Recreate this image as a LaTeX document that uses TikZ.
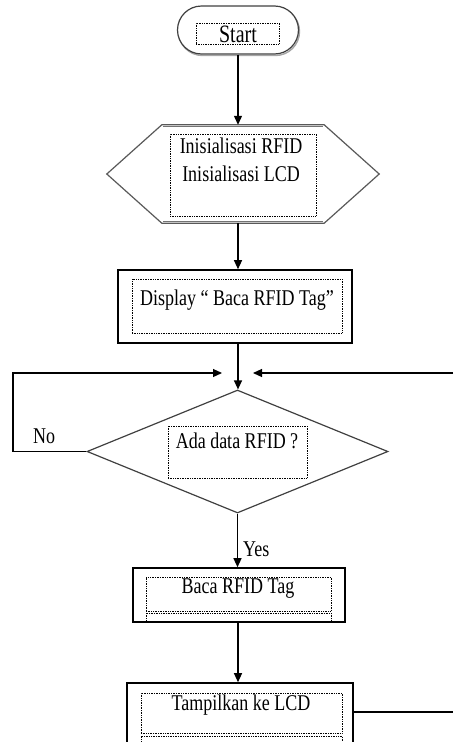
\documentclass[tikz,border=0pt]{standalone}
\usepackage{fontspec}
\setmainfont{Liberation Serif}
\usetikzlibrary{arrows.meta,shapes.misc,shapes.geometric}
% slightly tall lettering
\newcommand\tall[1]{\scalebox{1}[1.25]{#1}}
\tikzset{
  box/.style={draw, line width=1.6pt, inner sep=0, fill=white},
  dotbox/.style={draw, densely dotted, line width=0.7pt, inner sep=0},
  lbl/.style={font=\fontsize{18}{22}\selectfont, inner sep=0, anchor=base},
  flow/.style={line width=1.2pt, -{Triangle[length=9pt,width=8pt]}},
  wire/.style={line width=1.2pt},
}
\begin{document}
\begin{tikzpicture}[x=1pt,y=-1pt]
\useasboundingbox (0,0) rectangle (453,742);
\clip (0,0) rectangle (453,742);

% Start terminal with a soft shadow
\node[rounded rectangle, draw=gray!70, line width=1.4pt, minimum width=121pt, minimum height=48pt, inner sep=0] at (239,31.5) {};
\node[rounded rectangle, draw=black!75, fill=white, line width=1.2pt, minimum width=121pt, minimum height=48pt, inner sep=0] (start) at (238,30) {};
\node[dotbox, minimum width=83pt, minimum height=21pt] (startin) at (237.5,33.5) {};
\node[lbl, font=\fontsize{20}{24}\selectfont] (startt) at (238,42) {\tall{Start}};

% Preparation hexagon
\node[minimum width=272pt, minimum height=98pt, inner sep=0] (hex) at (243,174) {};
\draw[draw=black!65, line width=1.2pt, line join=miter]
  ([xshift=55pt]hex.north west) -- ([xshift=-55pt]hex.north east) -- (hex.east)
  -- ([xshift=-55pt]hex.south east) -- ([xshift=55pt]hex.south west) -- (hex.west) -- cycle;
\draw[draw=black!55, line width=1.2pt]
  ([xshift=56pt,yshift=-2pt]hex.north west) -- ([xshift=-56pt,yshift=-2pt]hex.north east)
  ([xshift=56pt,yshift=2pt]hex.south west) -- ([xshift=-56pt,yshift=2pt]hex.south east);
\node[dotbox, minimum width=146pt, minimum height=82pt] (hexin) at (243,175) {};
\node[lbl] (init1) at (241,153) {\tall{Inisialisasi RFID}};
\node[lbl] (init2) at (241,181) {\tall{Inisialisasi LCD}};

% Display box
\node[box, minimum width=234pt, minimum height=73pt] (disp) at (235,306.5) {};
\node[dotbox, minimum width=210pt, minimum height=54pt] (dispin) at (237,306) {};
\node[lbl] (dispt) at (237,305) {\tall{Display “ Baca RFID Tag”}};

% Decision
\node[diamond, draw=black!75, line width=1.2pt, minimum width=301pt, minimum height=123pt, inner sep=0] (dia) at (237.5,451.5) {};
\node[dotbox, minimum width=139pt, minimum height=52pt] (diain) at (237.5,452) {};
\node[lbl] (diat) at (237,448) {\tall{Ada data RFID ?}};

% Read tag box
\node[box, minimum width=212pt, minimum height=54pt] (baca) at (239,595) {};
\node[dotbox, minimum width=185pt, minimum height=34pt] (bacain) at (238.5,594) {};
\draw[densely dotted, line width=0.7pt] (146,622) -- (146,613) -- (331,613) -- (331,622);
\node[lbl] (bacat) at (238,593) {\tall{Baca RFID Tag}};

% Show on LCD box
\node[box, minimum width=226pt, minimum height=77pt] (tamp) at (240,721.5) {};
\node[dotbox, minimum width=201pt, minimum height=40pt] (tampin) at (241.5,713) {};
\draw[densely dotted, line width=0.7pt] (141,750) -- (141,736) -- (342,736) -- (342,750);
\node[lbl] (tampt) at (241,710) {\tall{Tampilkan ke LCD}};

% Branch labels
\node[lbl, anchor=base west] (no) at (33,443) {\tall{No}};
\node[lbl, anchor=base west] (yes) at (243,556) {\tall{Yes}};

% Loop ends
\coordinate (lc) at (13,373);
\coordinate (loopl) at (222,373);
\coordinate (rin) at (453,373);
\coordinate (loopr) at (253,373);
\coordinate (tout) at (453,712);

% Connectors
\draw[flow] (start.south) -- (start.south |- hex.north);
\draw[flow] (start.south |- hex.south) -- (start.south |- disp.north);
\draw[flow] ([xshift=3pt]disp.south) -- ([xshift=3pt]disp.south |- dia.north);
\draw[flow] (dia.west) -| (lc) -- (loopl);
\draw[flow] (rin) -- (loopr);
\draw[flow] (dia.south) -- (dia.south |- baca.north);
\draw[flow] ([xshift=-1pt]baca.south) -- ([xshift=-1pt]baca.south |- tamp.north);
\draw[wire] (tout -| tamp.east) -- (tout);
\end{tikzpicture}
\end{document}
